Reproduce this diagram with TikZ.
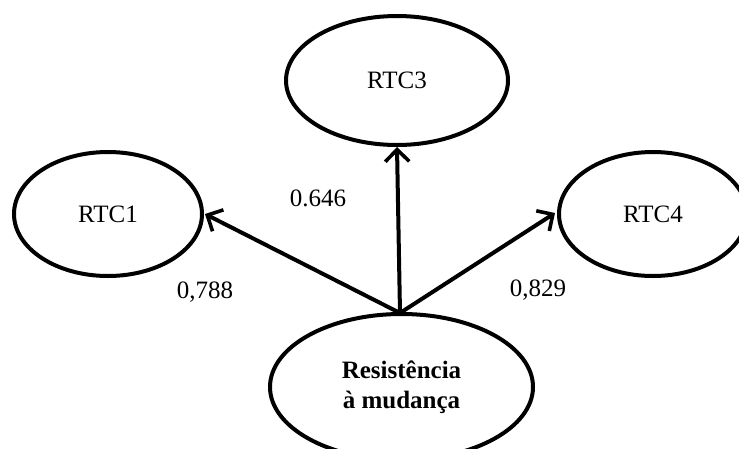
\documentclass[tikz,border=0pt]{standalone}
\usepackage{fontspec}
\setmainfont{Liberation Serif}
\usetikzlibrary{shapes.geometric,arrows.meta}
\begin{document}
\begin{tikzpicture}[x=1pt,y=-1pt,
  latent/.style={ellipse,draw=black,line width=4pt,inner sep=0pt,font=\fontsize{25}{30}\selectfont,align=center},
  link/.style={line width=4pt,-{Straight Barb[length=12pt,width=24pt,line width=3.6pt]}},
  coef/.style={font=\fontsize{25}{30}\selectfont,inner sep=0pt}]
\useasboundingbox (0,0) rectangle (739,448);
\clip (0,0) rectangle (739,448);
\node[latent,minimum width=188pt,minimum height=124pt] (r1) at (108,214) {RTC1};
\node[latent,minimum width=222pt,minimum height=129pt] (r3) at (397,80.5) {\raisebox{-3pt}{RTC3}};
\node[latent,minimum width=188pt,minimum height=124pt] (r4) at (653,214) {RTC4};
\node[latent,minimum width=263pt,minimum height=146pt] (res) at (401.5,387) {\bfseries Resistência\\\bfseries à mudança};
\coordinate (o) at (400,313);
\draw[link] (o) -- ([xshift=1pt]r1.east);
\draw[link] (o) -- (r3.south);
\draw[link] (o) -- ([xshift=-2pt,yshift=1pt]r4.west);
\node[coef] (c3) at (318,198) {0.646};
\node[coef] (c1) at (205,292) {0,788};
\node[coef] (c4) at (538,290) {0,829};
\end{tikzpicture}
\end{document}
